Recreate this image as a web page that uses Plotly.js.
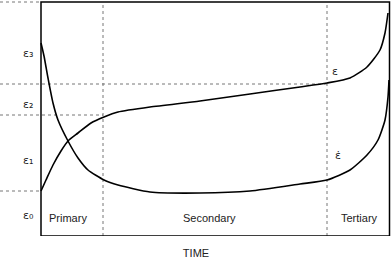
<!DOCTYPE html>
<html><head><meta charset="utf-8">
<script src="https://cdn.plot.ly/plotly-3.0.1.min.js"></script>
<style>html,body{margin:0;padding:0;background:#fff}#chart{width:392px;height:262px}</style>
</head><body><div id="chart"></div>
<script>
// Strain (epsilon) curve
var strainT = [0, 5, 12, 20, 27, 37, 50, 63, 77, 109, 159, 209, 259, 286, 309, 326, 339, 344, 347];
var strainV = [45, 56, 71, 85, 95, 103, 113, 119, 124, 129, 135, 142, 149, 153, 158, 169, 186, 203, 223];
// Strain rate (epsilon dot) curve
var rateT = [0, 3, 7, 12, 17, 27, 37, 47, 63, 77, 109, 159, 209, 259, 286, 309, 326, 337, 344, 347, 348];
var rateV = [193, 180, 158, 133, 116, 95, 78, 66, 56, 51, 44, 43, 45, 52, 56, 66, 81, 96, 116, 139, 156];
// Strain levels and phase boundaries
var levelNames = ["ε₀", "ε₁", "ε₂", "ε₃"];
var levelLabelY = [21, 76, 132, 183];
var levelLines = [45, 121, 152, 234];
var levelLineEnds = [0, 62, 286, 0];
var phaseBounds = [62, 286];
var phaseNames = ["Primary", "Secondary", "Tertiary"];
var phaseLabelX = [27, 168, 318];
var phaseLabelY = 18;
var xMax = 348.5, yMax = 234;

var black = '#000';
var traces = [
  {x: strainT, y: strainV, mode: 'lines', line: {color: black, width: 1.6, shape: 'spline', smoothing: 0.6}, hoverinfo: 'skip'},
  {x: rateT, y: rateV, mode: 'lines', line: {color: black, width: 1.6, shape: 'spline', smoothing: 0.6}, hoverinfo: 'skip'}
];

var shapes = [];
var dot = {color: '#777', width: 1, dash: 'dot'};
for (var i = 0; i < levelLines.length; i++) {
  shapes.push({type: 'line', xref: 'x', yref: 'y', x0: -41, x1: levelLineEnds[i], y0: levelLines[i], y1: levelLines[i], line: dot, layer: 'below'});
}
for (var j = 0; j < phaseBounds.length; j++) {
  shapes.push({type: 'line', xref: 'x', yref: 'y', x0: phaseBounds[j], x1: phaseBounds[j], y0: 0, y1: yMax, line: dot, layer: 'below'});
}
shapes.push({type: 'rect', xref: 'x', yref: 'y', x0: 0, x1: xMax, y0: 0, y1: yMax, line: {color: black, width: 1.5}, fillcolor: 'rgba(0,0,0,0)'});

var font = {family: 'Liberation Sans, Arial, sans-serif', size: 11, color: '#222'};
var symFont = {family: 'DejaVu Sans, sans-serif', size: 11, color: '#222'};
var ann = [];
for (var k = 0; k < levelNames.length; k++) {
  ann.push({x: -13, y: levelLabelY[k], xref: 'x', yref: 'y', text: levelNames[k], showarrow: false, font: symFont});
}
for (var m = 0; m < phaseNames.length; m++) {
  ann.push({x: phaseLabelX[m], y: phaseLabelY, xref: 'x', yref: 'y', text: phaseNames[m], showarrow: false, font: font});
}
ann.push({x: 294, y: 165, xref: 'x', yref: 'y', text: 'ε', showarrow: false, font: symFont});
ann.push({x: 297, y: 81, xref: 'x', yref: 'y', text: 'ε̇', showarrow: false, font: symFont});

var layout = {
  width: 392, height: 262,
  margin: {l: 0, r: 0, t: 0, b: 26},
  paper_bgcolor: '#fff', plot_bgcolor: '#fff',
  showlegend: false,
  xaxis: {range: [-41, 351], showgrid: false, zeroline: false, showline: false, showticklabels: false, ticks: '',
          title: {text: 'TIME', font: font, standoff: 13}, automargin: false, fixedrange: true},
  yaxis: {range: [0, 236], showgrid: false, zeroline: false, showline: false, showticklabels: false, ticks: '', automargin: false, fixedrange: true},
  shapes: shapes,
  annotations: ann
};
Plotly.newPlot('chart', traces, layout, {displayModeBar: false});
</script></body></html>
